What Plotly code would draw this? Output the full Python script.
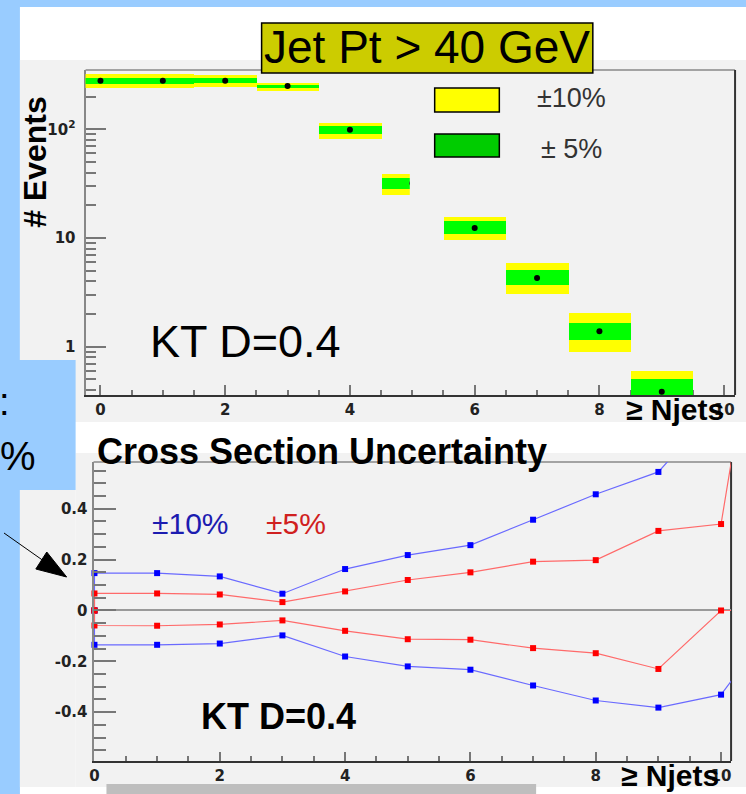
import numpy as np
import plotly.graph_objects as go

# ---- data ---------------------------------------------------------------
njets_top = list(range(10))                       # jet multiplicity bins (top)
events = [280, 280, 280, 250, 99, 32, 12.4, 4.3, 1.39, 0.385]

njets = list(range(12))                           # jet multiplicity (bottom)
up10 = [0.147, 0.147, 0.134, 0.066, 0.163, 0.218, 0.257, 0.357, 0.457, 0.545, 0.82, None]
up5 = [0.067, 0.067, 0.063, 0.033, 0.075, 0.120, 0.150, 0.192, 0.198, 0.313, 0.340, 1.84]
dn10 = [-0.135, -0.135, -0.130, -0.098, -0.181, -0.220, -0.233, -0.295, -0.354, -0.382, -0.331, 0.0]
dn5 = [-0.059, -0.060, -0.055, -0.039, -0.080, -0.113, -0.115, -0.148, -0.168, -0.230, 0.0, 0.0]
start_value = 0.0                                  # graphs open at (0, 0)

top_xticks = [0, 2, 4, 6, 8, 10]
top_yticks = [1, 10, 100]
top_yticktext = ["1", "10", "10<sup>2</sup>"]
bot_yticks = [-0.4, -0.2, 0, 0.2, 0.4]
bot_yticktext = ["-0.4", "-0.2", "0", "0.2", "0.4"]

# ---- page geometry helpers (pixels -> paper) ----------------------------
W, H = 746, 794
def px(x):
    return x / W
def py(y):
    return 1 - y / H

BLUE_BG = "#99ccff"
PAD = "#f2f2f2"
FONT = "Liberation Sans, Arial, sans-serif"
TICKFONT = dict(family="DejaVu Sans, sans-serif", size=15, color="#222", weight="bold")

fig = go.Figure()

# ---- top panel: event counts with +-10% / +-5% bands ---------------------
ev = np.array(events, dtype=float)
u10 = np.array(up10[:10], dtype=float)
d10 = np.array(dn10[:10], dtype=float)
u5 = np.array(up5[:10], dtype=float)
d5 = np.array(dn5[:10], dtype=float)

lo10, hi10 = ev * (1 + d10), ev * (1 + u10)
lo5, hi5 = ev * (1 + d5), ev * (1 + u5)

fig.add_trace(go.Bar(x=njets_top, y=hi10 - lo10, base=lo10, width=1,
                     marker=dict(color="#ffff00", line=dict(width=0)),
                     cliponaxis=False, xaxis="x", yaxis="y", hoverinfo="skip"))
fig.add_trace(go.Bar(x=njets_top, y=hi5 - lo5, base=lo5, width=1,
                     marker=dict(color="#00ff00", line=dict(width=0)),
                     cliponaxis=False, xaxis="x", yaxis="y", hoverinfo="skip"))
fig.add_trace(go.Scatter(x=njets_top, y=events, mode="markers",
                         marker=dict(color="black", size=6, symbol="circle"),
                         cliponaxis=False, xaxis="x", yaxis="y"))

# ---- bottom panel: relative cross-section shifts --------------------------
Y2_RANGE = [-0.592, 0.584]
X2_RANGE = [-0.015, 10.16]

def add_shift(vals, line_col, mark_col):
    xs = [0] + njets
    ys = [start_value] + vals
    fig.add_trace(go.Scatter(x=xs, y=ys, mode="lines",
                             line=dict(color=line_col, width=1.2),
                             connectgaps=False, xaxis="x2", yaxis="y2"))
    mx, my = [], []
    for x, y in zip(xs, ys):
        if y is None:
            continue
        if Y2_RANGE[0] <= y <= Y2_RANGE[1] and X2_RANGE[0] <= x <= X2_RANGE[1]:
            mx.append(x)
            my.append(y)
    fig.add_trace(go.Scatter(x=mx, y=my, mode="markers",
                             marker=dict(color=mark_col, size=6, symbol="square",
                                         line=dict(width=0)),
                             cliponaxis=False, xaxis="x2", yaxis="y2"))

add_shift(up10, "#6a6aff", "#0000ff")
add_shift(dn10, "#6a6aff", "#0000ff")
add_shift(up5, "#ff6a6a", "#ff0000")
add_shift(dn5, "#ff6a6a", "#ff0000")

# ---- axes ----------------------------------------------------------------
minor_x = [k * 0.5 for k in range(-0, 21) if k % 4 != 0]
minor_logy = [m * 10 ** e for e in (-1, 0, 1, 2) for m in range(2, 10)]
minor_y2 = [round(k * 0.05, 2) for k in range(-11, 12) if k % 4 != 0]

common_axis = dict(showgrid=False, zeroline=False, showline=True, linewidth=2,
                   ticks="inside", tickwidth=1.5, tickcolor="#777",
                   tickfont=TICKFONT, fixedrange=True)

fig.update_layout(
    width=W, height=794,
    margin=dict(l=0, r=0, t=0, b=0, pad=0),
    paper_bgcolor=BLUE_BG, plot_bgcolor="rgba(0,0,0,0)",
    showlegend=False, barmode="overlay", bargap=0,
    xaxis=dict(domain=[px(82), px(735)], range=[-0.239, 10.175], anchor="y",
               linecolor="#333", tickvals=top_xticks, ticklen=10,
               minor=dict(ticks="inside", tickvals=minor_x, ticklen=5,
                          tickcolor="#777", tickwidth=1.5),
               layer="below traces", **common_axis),
    yaxis=dict(domain=[py(395), py(70)], type="log", range=[-0.444, 2.546],
               anchor="x", linecolor="#888", tickvals=top_yticks,
               ticktext=top_yticktext, ticklen=20, ticklabelstandoff=5,
               minor=dict(ticks="inside", tickvals=minor_logy, ticklen=10,
                          tickcolor="#777", tickwidth=1.5),
               layer="below traces", **common_axis),
    xaxis2=dict(domain=[px(90), px(731)], range=X2_RANGE, anchor="y2",
                linecolor="#333", tickvals=top_xticks, ticklen=9,
                minor=dict(ticks="inside", tickvals=minor_x, ticklen=5,
                           tickcolor="#777", tickwidth=1.5),
                **common_axis),
    yaxis2=dict(domain=[py(761), py(462)], range=Y2_RANGE, anchor="x2",
                linecolor="#888", tickvals=bot_yticks, ticktext=bot_yticktext,
                ticklen=22, ticklabelstandoff=1,
                minor=dict(ticks="inside", tickvals=minor_y2, ticklen=12,
                           tickcolor="#777", tickwidth=1.5),
                **{k: v for k, v in common_axis.items() if k != "zeroline"},
                zeroline=True, zerolinecolor="#9a9a9a", zerolinewidth=2),
)

# ---- page background, pads and decorations --------------------------------
def rect(x0, y0, x1, y1, color, layer="below", line=None):
    d = dict(type="rect", xref="paper", yref="paper",
             x0=px(x0), x1=px(x1), y0=py(y1), y1=py(y0),
             fillcolor=color, layer=layer, line=dict(width=0))
    if line:
        d["line"] = line
    return d

shapes = [
    rect(16, 7, 746, 794, "white"),
    rect(16, 60, 746, 422, PAD),
    rect(72, 453, 746, 787, PAD),
    rect(16, 490, 72, 787, PAD),
    rect(0, 360, 72, 490, BLUE_BG),
    rect(103, 784, 535, 794, "#bebebe"),
]

# frame: top and right edges of both panels
for xa, ya in (("x", "y"), ("x2", "y2")):
    shapes.append(dict(type="line", xref=f"{xa} domain", yref=f"{ya} domain",
                       x0=0, x1=1, y0=1, y1=1, layer="below",
                       line=dict(color="#888", width=1.5)))
    shapes.append(dict(type="line", xref=f"{xa} domain", yref=f"{ya} domain",
                       x0=1, x1=1, y0=0, y1=1, layer="below",
                       line=dict(color="#333", width=2)))

# legend box, its swatches and the title box
shapes += [
    rect(408, 76, 720, 197, PAD, layer="above"),
    rect(433, 88, 498, 112, "#ffff00", layer="above", line=dict(color="black", width=1.5)),
    rect(433, 134, 498, 157, "#00cc00", layer="above", line=dict(color="black", width=1.5)),
    rect(259, 23, 592, 73, "#cccc00", layer="above", line=dict(color="black", width=1.5)),
]

# pointer arrow at the left edge
shapes.append(dict(type="line", xref="paper", yref="paper",
                   x0=px(0), y0=py(533), x1=px(40), y1=py(561), layer="above",
                   line=dict(color="black", width=1)))
tri = f"M {px(63)},{py(577)} L {px(32)},{py(569)} L {px(43)},{py(552)} Z"
shapes.append(dict(type="path", xref="paper", yref="paper", path=tri,
                   fillcolor="black", line=dict(color="black", width=1), layer="above"))

fig.update_layout(shapes=shapes)

# ---- text ------------------------------------------------------------------
def text(x, y, s, size, color="black", bold=False, xanchor="center", angle=0):
    fig.add_annotation(xref="paper", yref="paper", x=px(x), y=py(y), text=s,
                       showarrow=False, xanchor=xanchor, yanchor="middle",
                       textangle=angle,
                       font=dict(family=FONT, size=size, color=color,
                                 weight="bold" if bold else "normal"))

text(425, 47, "Jet Pt &gt; 40 GeV", 46)
text(571, 98, "±10%", 27, color="#333")
text(571, 149, "± 5%", 27, color="#333")
text(31, 162, "# Events", 32, bold=True, angle=-90)
text(243, 341, "KT D=0.4", 45)
text(675, 409, "≥ Njets", 30, bold=True)

text(320, 451, "Cross Section Uncertainty", 36, bold=True)
text(188, 523, "±10%", 30, color="#1c1cb0")
text(294, 523, "±5%", 30, color="#d02020")
text(276, 716, "KT D=0.4", 36, bold=True)
text(670, 775, "≥ Njets", 30, bold=True)

text(8, 402, ":", 38, xanchor="right")
text(34, 456, "%", 40, xanchor="right")

fig.write_html("out.html")
